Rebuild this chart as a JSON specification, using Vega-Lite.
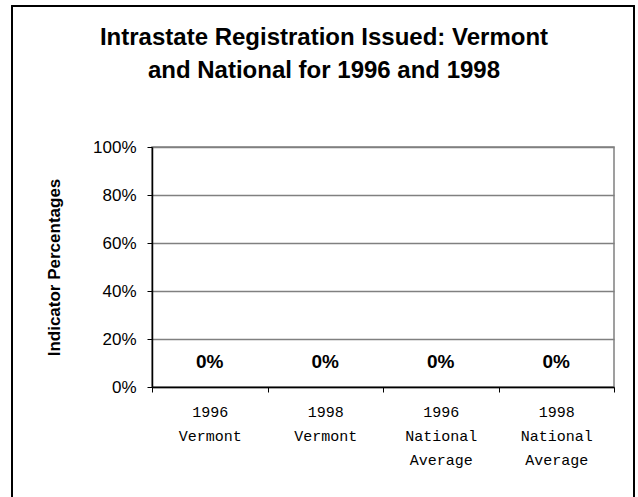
{
  "$schema": "https://vega.github.io/schema/vega-lite/v6.json",
  "autosize": {"type": "none"},
  "padding": {"left": 152, "top": 147, "right": 24, "bottom": 110},
  "width": 462,
  "height": 240,
  "background": "white",
  "title": {
    "text": ["Intrastate Registration Issued: Vermont", "and National for 1996 and 1998"],
    "font": "Liberation Sans",
    "fontSize": 24,
    "fontWeight": "bold",
    "color": "black",
    "lineHeight": 33,
    "anchor": "middle",
    "baseline": "alphabetic",
    "dx": -59,
    "offset": -97
  },
  "data": {
    "values": [
      {"category": "1996|Vermont", "value": 0},
      {"category": "1998|Vermont", "value": 0},
      {"category": "1996|National|Average", "value": 0},
      {"category": "1998|National|Average", "value": 0}
    ]
  },
  "config": {
    "view": {"stroke": "#808080", "strokeWidth": 1.5}
  },
  "layer": [
    {
      "mark": {"type": "rect", "fill": null, "stroke": "black", "strokeWidth": 1.5},
      "encoding": {
        "x": {"value": -140},
        "x2": {"value": 482},
        "y": {"value": -141},
        "y2": {"value": 360}
      }
    },
    {
      "mark": {"type": "bar", "color": "#9999FF"},
      "encoding": {
        "x": {
          "field": "category",
          "type": "nominal",
          "sort": null,
          "scale": {"paddingInner": 0, "paddingOuter": 0},
          "axis": {
            "title": null,
            "labelAngle": 0,
            "labelExpr": "split(datum.label, '|')",
            "labelFont": "Liberation Mono",
            "labelFontSize": 15,
            "labelColor": "black",
            "labelLineHeight": 24,
            "labelPadding": 12,
            "labelBaseline": "top",
            "tickBand": "extent",
            "tickSize": 5,
            "tickColor": "black",
            "domainColor": "black",
            "domainWidth": 1.5,
            "tickWidth": 1
          }
        },
        "y": {
          "field": "value",
          "type": "quantitative",
          "scale": {"domain": [0, 1], "nice": false},
          "axis": {
            "title": "Indicator Percentages",
            "titleFont": "Liberation Sans",
            "titleFontSize": 17,
            "titleFontWeight": "bold",
            "titleColor": "black",
            "titlePadding": 29,
            "values": [0, 0.2, 0.4, 0.6, 0.8, 1],
            "format": ".0%",
            "labelFont": "Liberation Sans",
            "labelFontSize": 17,
            "labelColor": "black",
            "labelPadding": 11,
            "tickSize": 5,
            "tickColor": "black",
            "domainColor": "black",
            "domainWidth": 1.5,
            "grid": true,
            "gridColor": "#808080",
            "gridWidth": 1.5
          }
        }
      }
    },
    {
      "mark": {"type": "text", "font": "Liberation Sans", "fontSize": 19, "fontWeight": "bold", "color": "black", "dy": -25},
      "encoding": {
        "x": {"field": "category", "type": "nominal", "sort": null},
        "y": {"field": "value", "type": "quantitative"},
        "text": {"field": "value", "type": "quantitative", "format": ".0%"}
      }
    }
  ]
}
